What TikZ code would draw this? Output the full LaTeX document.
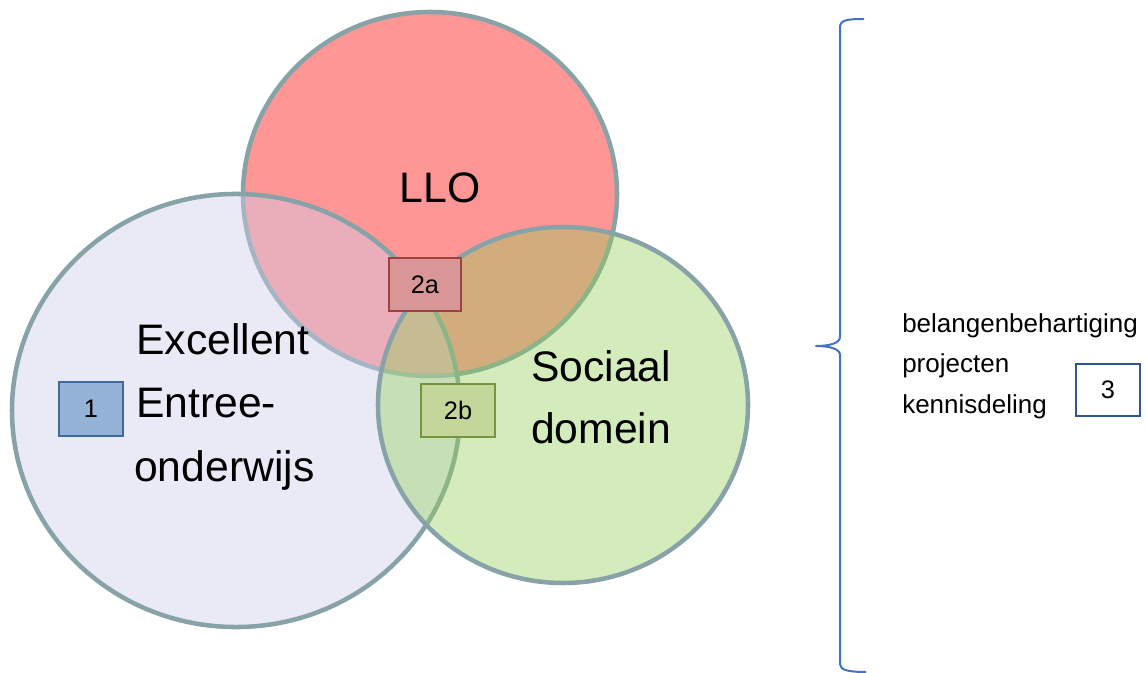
\documentclass[tikz,border=0pt]{standalone}
\usepackage{fontspec}
\setmainfont{Liberation Sans}
\definecolor{ringc}{RGB}{135,163,167}
\definecolor{llofill}{RGB}{255,150,150}
\definecolor{excfill}{RGB}{207,207,235}
\definecolor{socfill}{RGB}{147,207,88}
\definecolor{boxonefill}{RGB}{149,179,215}
\definecolor{boxoneline}{RGB}{65,105,160}
\definecolor{boxafill}{RGB}{217,150,150}
\definecolor{boxaline}{RGB}{160,64,64}
\definecolor{boxbfill}{RGB}{196,215,155}
\definecolor{boxbline}{RGB}{119,147,60}
\definecolor{boxthreeline}{RGB}{47,85,151}
\definecolor{bracec}{RGB}{68,114,196}
\tikzset{
  ring/.style={draw=ringc, line width=3.4pt},
  bigtext/.style={inner sep=0pt, anchor=base west, font=\fontsize{32pt}{38pt}\selectfont},
  smalltext/.style={inner sep=0pt, anchor=base west, font=\fontsize{19.5pt}{23pt}\selectfont},
  numbox/.style={draw, line width=1.3pt, inner sep=0pt, font=\fontsize{19pt}{23pt}\selectfont},
}
\begin{document}
\begin{tikzpicture}[x=0.75pt,y=-0.75pt]
\useasboundingbox (0,0) rectangle (1147,673);
% LLO circle
\fill[llofill] (430,194) ellipse [x radius=140.25pt, y radius=136.5pt];
\draw[ring] (430,194) ellipse [x radius=140.25pt, y radius=136.5pt];
% Excellent circle
\fill[excfill, fill opacity=0.43] (236,410.5) ellipse [x radius=168pt, y radius=162.4pt];
\draw[ring] (236,410.5) ellipse [x radius=168pt, y radius=162.4pt];
% Sociaal circle
\fill[socfill, fill opacity=0.4] (563,405) ellipse [x radius=138.75pt, y radius=133.5pt];
\draw[ring] (563,405) ellipse [x radius=138.75pt, y radius=133.5pt];
% texts
\node[inner sep=0pt, anchor=base, font=\fontsize{32pt}{38pt}\selectfont] (llo) at (440,203) {LLO};
\node[bigtext] (exc1) at (136,355) {Excellent};
\node[bigtext] (exc2) at (136,418) {Entree-};
\node[bigtext] (exc3) at (134,482) {onderwijs};
\node[bigtext] (soc1) at (531,382) {Sociaal};
\node[bigtext] (soc2) at (531,444) {domein};
% boxes
\node[numbox, draw=boxoneline, fill=boxonefill, minimum width=48pt, minimum height=40.5pt] (b1) at (91,409) {1};
\node[numbox, draw=boxaline, fill=boxafill, minimum width=54pt, minimum height=39.75pt] (b2a) at (425,284.5) {2a};
\node[numbox, draw=boxbline, fill=boxbfill, minimum width=55.5pt, minimum height=39.75pt] (b2b) at (458,410.5) {2b};
\node[numbox, draw=boxthreeline, fill=white, minimum width=48pt, minimum height=39pt] (b3) at (1108,390) {3};
% right texts
\node[smalltext] (r1) at (902,333) {belangenbehartiging};
\node[smalltext] (r2) at (902,373) {projecten};
\node[smalltext] (r3) at (902,414) {kennisdeling};
% brace
\draw[bracec, line width=1.5pt, line join=round]
  (864,19) .. controls (848,19) and (840,20) .. (840,27)
  -- (840,337) .. controls (840,343) and (830,346) .. (816,346)
  .. controls (830,346) and (840,349) .. (840,355)
  -- (840,664) .. controls (840,670) and (848,672) .. (866,672);
\end{tikzpicture}
\end{document}
